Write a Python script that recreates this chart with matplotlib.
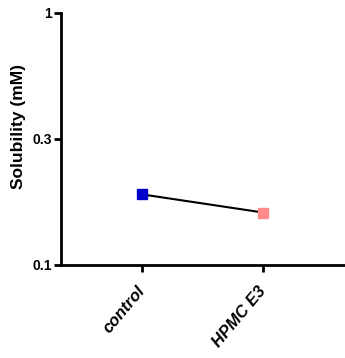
import numpy as np
import matplotlib
matplotlib.use("Agg")
import matplotlib.pyplot as plt

# Data
groups = ["control", "HPMC E3"]
solubility = [0.190, 0.161]
marker_colors = ["#0000C8", "#FF8A8A"]
ytick_values = [0.1, 10 ** -0.5, 1.0]
ytick_labels = ["0.1", "0.3", "1"]

plt.rcParams["font.family"] = ["Liberation Sans", "DejaVu Sans"]

fig = plt.figure(figsize=(3.45, 3.58), dpi=100)
ax = fig.add_axes([0.178, 0.261, 0.822, 0.703])

x = np.arange(len(groups))
ax.plot(x, solubility, color="black", lw=1.5, zorder=2)
for xi, yi, c in zip(x, solubility, marker_colors):
    ax.plot(xi, yi, marker="s", ms=6.5, color=c, mec=c, zorder=3, ls="none")

ax.set_yscale("log")
ax.set_ylim(0.1, 1.0)
ax.set_xlim(-0.669, 1.678)

ax.yaxis.set_major_locator(matplotlib.ticker.FixedLocator(ytick_values))
ax.yaxis.set_minor_locator(matplotlib.ticker.NullLocator())
ax.set_yticklabels(ytick_labels, fontsize=10, fontweight="bold")

ax.set_xticks(x)
ax.set_xticklabels(groups, fontsize=12, fontweight="bold", fontstyle="italic",
                   rotation=50, ha="right", va="center", rotation_mode="anchor")

ax.set_ylabel("Solubility (mM)", fontsize=12.5, fontweight="bold")
ax.yaxis.set_label_coords(-0.125, 0.55)

for side in ["top", "right"]:
    ax.spines[side].set_visible(False)
for side in ["left", "bottom"]:
    ax.spines[side].set_linewidth(2)
ax.tick_params(axis="y", width=2, length=5, direction="out", pad=2)
ax.tick_params(axis="x", width=2, length=5, direction="out", pad=12)

fig.savefig("out.png", dpi=100)
